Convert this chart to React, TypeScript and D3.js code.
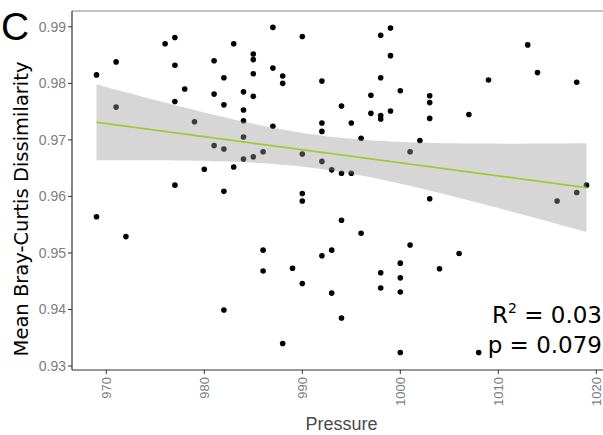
import React from 'react';
import * as d3 from 'd3';

// pressure (hPa) and mean Bray-Curtis dissimilarity per sample
const pressure = [
  969, 971, 971, 976, 977, 977, 978, 977, 979, 977, 969, 972, 980, 982, 988,
  987, 990, 983, 985, 985, 981, 987, 982, 985, 988, 988, 992, 981, 984, 985,
  982, 984, 984, 987, 984, 981, 982, 986, 985, 984, 990, 992, 993, 994, 995,
  983, 992, 992, 995, 996, 994, 997, 997, 998, 998, 999, 1000, 998, 999, 998,
  999, 1003, 1003, 1003, 1007, 1009, 1013, 1014, 1018, 1002, 1001, 982, 990, 990, 994,
  996, 986, 993, 992, 989, 986, 990, 993, 998, 1000, 1000, 998, 1000, 1003, 1016,
  1018, 1019, 1001, 1006, 1004, 994, 1000, 1008,
];
const dissimilarity = [
  0.9815, 0.9838, 0.9758, 0.987, 0.9881, 0.9832, 0.979, 0.9768, 0.9732, 0.962, 0.9564, 0.9529, 0.9648, 0.9399, 0.934,
  0.9899, 0.9883, 0.987, 0.9852, 0.9842, 0.984, 0.9827, 0.981, 0.9817, 0.9813, 0.98, 0.9804, 0.9781, 0.9785, 0.9777,
  0.9762, 0.9753, 0.9734, 0.9724, 0.9705, 0.969, 0.9684, 0.9679, 0.967, 0.9666, 0.9675, 0.9662, 0.9647, 0.9641, 0.9641,
  0.9652, 0.973, 0.9715, 0.973, 0.9703, 0.976, 0.9779, 0.9747, 0.9743, 0.9737, 0.9751, 0.9787, 0.981, 0.9849, 0.9885,
  0.9898, 0.9778, 0.9766, 0.9738, 0.9745, 0.9806, 0.9868, 0.9819, 0.9802, 0.9699, 0.9679, 0.9609, 0.9605, 0.9592, 0.9558,
  0.9535, 0.9505, 0.9505, 0.9495, 0.9473, 0.9468, 0.9446, 0.9429, 0.9465, 0.9482, 0.9456, 0.9438, 0.9431, 0.9596, 0.9592,
  0.9607, 0.962, 0.9514, 0.9499, 0.9472, 0.9385, 0.9324, 0.9324,
];
const xTicks = [970, 980, 990, 1000, 1010, 1020];
const yTicks = [0.93, 0.94, 0.95, 0.96, 0.97, 0.98, 0.99];
const r2Label = '0.03';
const pLabel = '0.079';

const W = 603;
const H = 435;
const panel = { left: 72, right: 611, top: 11, bottom: 370 };

// simple OLS with 95% confidence band, like geom_smooth(method = "lm")
function linearFit(xs: number[], ys: number[]) {
  const n = xs.length;
  const xm = d3.mean(xs)!;
  const ym = d3.mean(ys)!;
  let sxx = 0, sxy = 0;
  xs.forEach((x, i) => { sxx += (x - xm) ** 2; sxy += (x - xm) * (ys[i] - ym); });
  const b = sxy / sxx;
  const a = ym - b * xm;
  let sse = 0;
  xs.forEach((x, i) => { sse += (ys[i] - (a + b * x)) ** 2; });
  const s = Math.sqrt(sse / (n - 2));
  const t = 1.9847;
  const [x0, x1] = d3.extent(xs) as [number, number];
  return d3.range(80).map(k => {
    const x = x0 + (k / 79) * (x1 - x0);
    const y = a + b * x;
    const se = s * Math.sqrt(1 / n + (x - xm) ** 2 / sxx);
    return { x, y, lo: y - t * se, hi: y + t * se };
  });
}

export default function App() {
  const x = d3.scaleLinear().domain([966.5, 1021.5]).range([panel.left, panel.right]);
  const y = d3.scaleLinear().domain([0.9293, 0.9928]).range([panel.bottom, panel.top]);

  const fit = linearFit(pressure, dissimilarity);
  const band = d3.area<any>().x(d => x(d.x)).y0(d => y(d.lo)).y1(d => y(d.hi))(fit) || '';
  const line = d3.line<any>().x(d => x(d.x)).y(d => y(d.y))(fit) || '';

  const tickColor = '#333333';
  const labelColor = '#7d7d85';

  return (
    <svg width={W} height={H} style={{ position: 'absolute', left: 0, top: 0, background: '#fff' }}
      fontFamily="'Liberation Sans', Arial, sans-serif">
      {/* points first, band sits on top of them */}
      {pressure.map((p, i) => (
        <circle key={i} cx={x(p)} cy={y(dissimilarity[i])} r={2.8} fill="#000" />
      ))}
      <path d={band} fill="#999999" fillOpacity={0.4} />
      <path d={line} fill="none" stroke="#9acd32" strokeWidth={1.7} />

      {/* panel lines */}
      <line x1={panel.left} x2={W} y1={panel.top} y2={panel.top} stroke="#8a8a8a" strokeWidth={1.2} />
      <line x1={panel.left} x2={panel.left} y1={panel.top} y2={panel.bottom} stroke={tickColor} strokeWidth={1.2} />
      <line x1={panel.left} x2={W} y1={panel.bottom} y2={panel.bottom} stroke={tickColor} strokeWidth={1.2} />

      {yTicks.map(t => (
        <g key={t} transform={`translate(0,${y(t)})`}>
          <line x1={panel.left - 4} x2={panel.left} stroke={tickColor} strokeWidth={1} />
          <text x={panel.left - 6} dy="0.35em" textAnchor="end" fontSize={14} fill={labelColor}>{t.toFixed(2)}</text>
        </g>
      ))}
      {xTicks.map(t => (
        <g key={t} transform={`translate(${x(t)},0)`}>
          <line y1={panel.bottom} y2={panel.bottom + 4} stroke={tickColor} strokeWidth={1} />
          <text transform={`translate(0,${panel.bottom + 7}) rotate(-90)`} dy="0.35em" textAnchor="end"
            fontSize={13} fill={labelColor}>{t}</text>
        </g>
      ))}

      <text x={(panel.left + panel.right) / 2} y={430} textAnchor="middle" fontSize={18} fill="#4a4a4a">Pressure</text>
      <text transform="translate(28,209) rotate(-90)" textAnchor="middle" fontSize={19.5}
        fontFamily="'DejaVu Sans', sans-serif" fill="#000">Mean Bray-Curtis Dissimilarity</text>

      <text x={1} y={40} fontSize={39} fill="#000">C</text>

      <text x={602} y={323} textAnchor="end" fontSize={23} fontFamily="'DejaVu Sans', sans-serif" fill="#000">
        R<tspan fontSize={14} dy={-10}>2</tspan><tspan dy={10}>{` = ${r2Label}`}</tspan>
      </text>
      <text x={602} y={353} textAnchor="end" fontSize={23} fontFamily="'DejaVu Sans', sans-serif" fill="#000">
        {`p = ${pLabel}`}
      </text>
    </svg>
  );
}
